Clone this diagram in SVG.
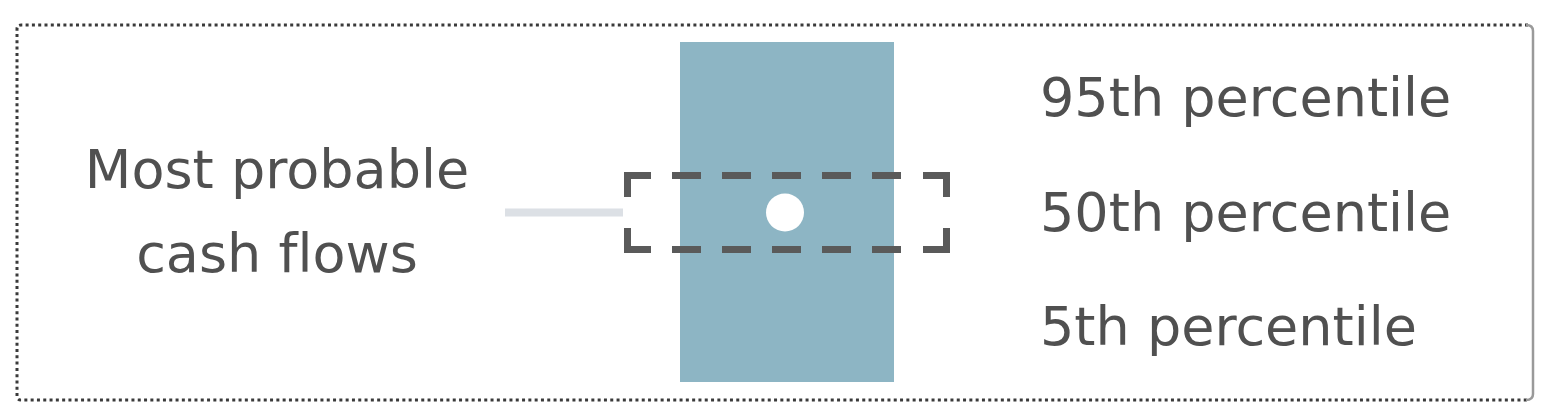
<svg xmlns="http://www.w3.org/2000/svg" width="1554" height="414" viewBox="0 0 1554 414">
  <style>
    .lbl { font-family: "DejaVu Sans", "Liberation Sans", sans-serif; font-size: 54px; fill: #505050; font-variant-ligatures: none; }
    .frame-dot { fill: none; stroke: #3a3a3a; stroke-width: 3; stroke-dasharray: 3 3.3; }
    .frame-solid { fill: none; stroke: #9a9a9a; stroke-width: 2.5; }
    .band { fill: #8db5c4; }
    .bracket { fill: none; stroke: #5a5a5a; stroke-width: 7; stroke-linecap: butt; }
    .dash { fill: none; stroke: #5a5a5a; stroke-width: 7; stroke-dasharray: 29 21; }
    .conn { stroke: #dce0e5; stroke-width: 8; fill: none; }
  </style>
  <rect x="0" y="0" width="1554" height="414" fill="#ffffff"/>
  <g id="frame">
    <path class="frame-dot" d="M1528,25 H21 Q17,25 17,29 V396 Q17,400 21,400 H1528"/>
    <path class="frame-solid" d="M1526,25 Q1533,25 1533,31 V394 Q1533,400 1526,400"/>
  </g>
  <g id="connectors">
    <line class="conn" x1="505" y1="212.5" x2="623" y2="212.5"/>
  </g>
  <g id="node-band">
    <rect class="band" x="680" y="42" width="214" height="340"/>
  </g>
  <g id="node-range">
    <path class="bracket" d="M627.5,197 V175.5 H651"/>
    <path class="bracket" d="M923,175.5 H946.5 V197"/>
    <path class="bracket" d="M627.5,228 V249.5 H651"/>
    <path class="bracket" d="M923,249.5 H946.5 V228"/>
    <line class="dash" x1="672" y1="175.5" x2="903" y2="175.5"/>
    <line class="dash" x1="672" y1="249.5" x2="903" y2="249.5"/>
    <circle cx="785" cy="212.5" r="19" fill="#ffffff"/>
  </g>
  <g id="node-most-probable">
    <text class="lbl" x="277" y="188" text-anchor="middle">Most probable</text>
    <text class="lbl" x="277" y="272" text-anchor="middle">cash flows</text>
  </g>
  <g id="node-p95">
    <text class="lbl" x="1040" y="116">95th percentile</text>
  </g>
  <g id="node-p50">
    <text class="lbl" x="1040" y="231">50th percentile</text>
  </g>
  <g id="node-p5">
    <text class="lbl" x="1040" y="345">5th percentile</text>
  </g>
</svg>
